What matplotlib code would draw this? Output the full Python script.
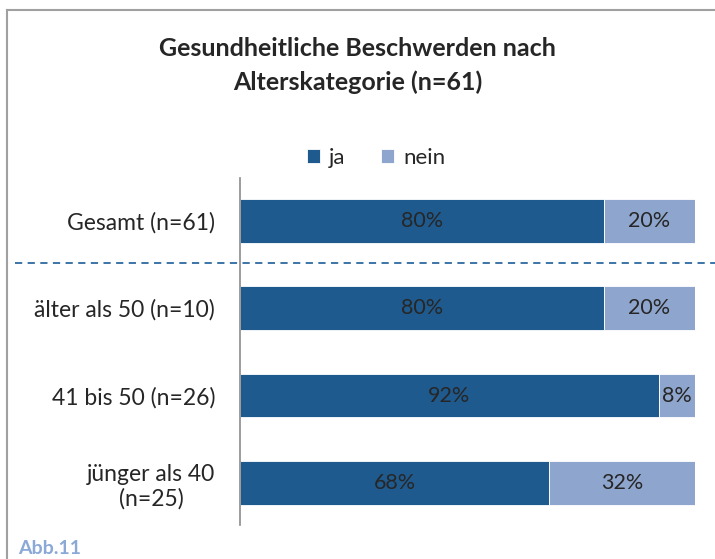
import matplotlib
matplotlib.use("Agg")
import matplotlib.pyplot as plt
from matplotlib.lines import Line2D

categories = ["Gesamt (n=61)", "älter als 50 (n=10)", "41 bis 50 (n=26)", "jünger als 40\n(n=25)"]
ja = [80, 80, 92, 68]
nein = [20, 20, 8, 32]
series_names = ["ja", "nein"]

c_ja = "#1F5A8E"
c_nein = "#8EA6CD"
txt = "#262626"
font = "Lato"

fig = plt.figure(figsize=(7.15, 5.59), dpi=100)
ax = fig.add_axes([240/715, 1-525/559, (695-240)/715, (525-178)/559])

n = len(categories)
ypos = [n - 1 - i for i in range(n)]
ax.barh(ypos, ja, height=0.5, color=c_ja, edgecolor="white", linewidth=0.6, label=series_names[0])
ax.barh(ypos, nein, left=ja, height=0.5, color=c_nein, edgecolor="white", linewidth=0.6, label=series_names[1])

for y, a, b in zip(ypos, ja, nein):
    ax.text(a/2, y, f"{a}%", ha="center", va="center", fontsize=15.5, color=txt, family=font)
    ax.text(a + b/2, y, f"{b}%", ha="center", va="center", fontsize=15.5, color=txt, family=font)

ax.set_xlim(0, 100)
ax.set_ylim(-0.48, 3.49)
ax.set_yticks(ypos)
ax.set_yticklabels(categories, fontsize=16.5, color=txt, family=font, linespacing=1.2)
ax.set_xticks([])
for s in ["top", "right", "bottom"]:
    ax.spines[s].set_visible(False)
ax.spines["left"].set_color("#8C8C8C")
ax.spines["left"].set_linewidth(1.2)
for lbl in ax.get_yticklabels():
    lbl.set_horizontalalignment("right")
    lbl.set_multialignment("center")
ax.tick_params(axis="y", length=0, pad=18)

# dashed separator
fig.add_artist(Line2D([15/715, 1.0], [1-263/559, 1-263/559], color="#2E6AA0",
                      linestyle=(0, (4, 3)), linewidth=1.3))

# frame
fig.add_artist(Line2D([7/715, 7/715], [0, 1-10/559], color="#A0A0A0", linewidth=1.5))
fig.add_artist(Line2D([7/715, 1], [1-10/559, 1-10/559], color="#A0A0A0", linewidth=1.5))

fig.text(0.5, 1-48/559, "Gesundheitliche Beschwerden nach", ha="center", va="center",
         fontsize=18, fontweight="bold", color=txt, family=font)
fig.text(0.5, 1-82/559, "Alterskategorie (n=61)", ha="center", va="center",
         fontsize=18, fontweight="bold", color=txt, family=font)

leg = ax.legend(loc="center", bbox_to_anchor=((376-240)/455, 1 + (178-158)/347), ncol=2, frameon=False,
                handlelength=0.6, handleheight=0.6, handletextpad=0.4,
                columnspacing=1.6, borderaxespad=0, borderpad=0,
                prop={"family": font, "size": 16})
for t in leg.get_texts():
    t.set_color(txt)

fig.text(18/715, 1-548/559, "Abb.11", ha="left", va="center", fontsize=14,
         fontweight="bold", color="#8BA9D6", family=font)

fig.savefig("out.png", dpi=100)
